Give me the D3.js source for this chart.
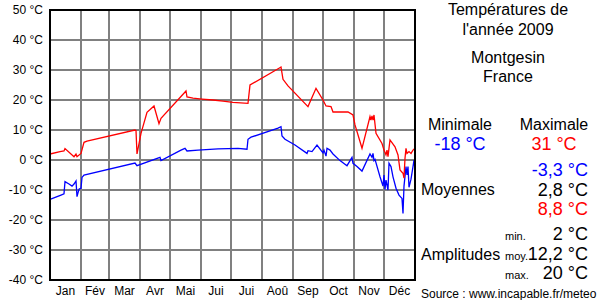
<!DOCTYPE html>
<html>
<head>
<meta charset="utf-8">
<script src="https://cdn.jsdelivr.net/npm/d3@7"></script>
<style>
	body { margin: 0; background: #fff; }
	svg { display: block; font-family: "Liberation Sans", Arial, sans-serif; }
</style>
</head>
<body>
<div id="chart"></div>
<script>

// Data (day of year, °C)
var months = ["Jan","Fév","Mar","Avr","Mai","Jui","Jui","Aoû","Sep","Oct","Nov","Déc"];
var monthDays = [31,28,31,30,31,30,31,31,30,31,30,31];
var tempTicks = [50,40,30,20,10,0,-10,-20,-30,-40];

var maxDays  = [0,10,14,15,24,26,27,31,34,37,85,86,87,91,97,104,109,111,136,137,143,152,163,173,183,198,200,229,231,233,238,258,266,273,276,281,283,298,303,305,312,320,321,322,323,324,326,332,334,336,337,338,340,345,348,350,353,354,355,356,357,359,361,363,365];
var maxTemps = [2.0,2.8,3.0,3.8,1.1,2.0,1.1,2.2,5.9,6.3,10.0,9.8,2.0,8.9,15.9,18.0,12.1,13.9,23.0,21.0,20.6,20.3,20.0,19.6,19.2,18.9,25.0,30.6,31.0,26.9,24.7,17.8,23.9,20.0,18.0,17.8,16.0,16.0,15.0,11.7,3.9,14.5,13.3,14.7,13.3,15.0,8.9,5.5,3.3,1.7,3.3,1.1,6.7,4.4,1.7,-3.3,-4.4,-6.0,0.6,3.9,2.2,2.8,2.2,3.3,3.9];

var minDays  = [0,11,14,15,19,22,24,26,27,29,31,32,34,85,87,110,111,131,135,137,148,168,188,197,198,201,228,231,232,235,245,257,258,262,267,273,274,276,277,280,283,290,297,302,303,307,312,320,322,323,324,325,330,333,334,335,336,338,339,341,343,346,349,352,353,354,356,357,358,359,361,363,364,365];
var minTemps = [-13.1,-11.7,-11.3,-7.2,-8.0,-8.7,-8.0,-7.0,-12.2,-9.7,-9.4,-5.8,-5.0,-1.0,-1.9,0.9,-0.2,3.3,3.9,3.0,3.3,3.7,3.9,3.6,6.9,7.6,10.6,11.1,8.0,6.9,5.0,2.2,3.1,2.8,5.0,2.4,3.3,1.3,3.9,3.3,2.0,-0.2,-1.9,0.9,-1.1,-2.2,-3.7,2.0,0.9,2.2,-0.2,0.2,-5.6,-8.7,-5.0,-9.8,-6.7,-10.0,-1.1,-2.2,-5.6,-9.4,-11.7,-12.8,-17.8,-8.7,-2.2,-5.0,-2.2,-9.1,-6.4,-2.2,0.0,-3.3];

var titleLines = ["Températures de","l'année 2009"];
var placeLines = ["Montgesin","France"];
var extremes = {min: "-18 °C", max: "31 °C"};
var averages = ["-3,3 °C","2,8 °C","8,8 °C"];
var amplitudeLabels = ["min.","moy.","max."];
var amplitudes = ["2 °C","12,2 °C","20 °C"];
var sourceText = "Source : www.incapable.fr/meteo";

// Drawing parameters
var width = 600, height = 300;
var plotLeft = 50, plotRight = 415, plotTop = 10, plotBottom = 280;
var gridColor = "#808080";
var panelCenter = 508;
var bigFont = 18;

var svg = d3.select("#chart").append("svg")
	.attr("width",width).attr("height",height)
	.attr("viewBox","0 0 " + width + " " + height);

var x = d3.scaleLinear().domain([0,365]).range([plotLeft,plotRight]);
var y = d3.scaleLinear().domain([-40,50]).range([plotBottom,plotTop]);

// month boundaries
var monthStart = [0];
monthDays.forEach(function(d,i) { monthStart.push(monthStart[i] + d); });

// Grid
var grid = svg.append("g").attr("stroke",gridColor).attr("stroke-width",2).attr("shape-rendering","crispEdges");
grid.selectAll("line.h").data(tempTicks.slice(1,-1)).enter().append("line")
	.attr("class","h")
	.attr("x1",plotLeft).attr("x2",plotRight)
	.attr("y1",function(d) { return y(d); }).attr("y2",function(d) { return y(d); });
grid.selectAll("line.v").data(monthStart.slice(1,-1)).enter().append("line")
	.attr("class","v")
	.attr("y1",plotTop).attr("y2",plotBottom)
	.attr("x1",function(d) { return x(d); }).attr("x2",function(d) { return x(d); });

// Series
var line = d3.line()
	.x(function(d) { return x(d[0]); })
	.y(function(d) { return y(d[1]); });

svg.append("path")
	.datum(d3.zip(minDays,minTemps))
	.attr("d",line)
	.attr("fill","none").attr("stroke","#0000ff").attr("stroke-width",1.3);

svg.append("path")
	.datum(d3.zip(maxDays,maxTemps))
	.attr("d",line)
	.attr("fill","none").attr("stroke","#ff0000").attr("stroke-width",1.3);

// Frame
svg.append("rect")
	.attr("x",plotLeft).attr("y",plotTop)
	.attr("width",plotRight-plotLeft).attr("height",plotBottom-plotTop)
	.attr("fill","none").attr("stroke","#000").attr("stroke-width",2)
	.attr("shape-rendering","crispEdges");

// Y axis
var yAxis = d3.axisLeft(y)
	.tickValues(tempTicks)
	.tickSize(0).tickPadding(7)
	.tickFormat(function(d) { return d + " °C"; });

svg.append("g")
	.attr("transform","translate(" + plotLeft + ",0)")
	.call(yAxis)
	.call(function(g) { g.select(".domain").remove(); })
	.selectAll("text")
		.attr("font-family","Liberation Sans, Arial, sans-serif")
		.attr("font-size",12).attr("fill","#000");

// Month labels
svg.append("g").selectAll("text").data(months).enter().append("text")
	.attr("x",function(d,i) { return x((monthStart[i] + monthStart[i+1]) / 2); })
	.attr("y",295)
	.attr("text-anchor","middle")
	.attr("font-size",12)
	.text(function(d) { return d; });

// Right panel
var panel = svg.append("g").attr("font-size",16).attr("fill","#000");

panel.selectAll("text.title").data(titleLines.concat(placeLines)).enter().append("text")
	.attr("x",panelCenter)
	.attr("y",function(d,i) { return [15,35,63,82][i]; })
	.attr("text-anchor","middle")
	.text(function(d) { return d; });

panel.append("text").attr("x",460).attr("y",130).attr("text-anchor","middle").text("Minimale");
panel.append("text").attr("x",554).attr("y",130).attr("text-anchor","middle").text("Maximale");
panel.append("text").attr("x",460).attr("y",149.5).attr("text-anchor","middle")
	.attr("font-size",bigFont).attr("fill","#0000ff").text(extremes.min);
panel.append("text").attr("x",554).attr("y",149.5).attr("text-anchor","middle")
	.attr("font-size",bigFont).attr("fill","#ff0000").text(extremes.max);

// Moyennes
var avgColors = ["#0000ff","#000","#ff0000"];
panel.append("text").attr("x",421).attr("y",195).text("Moyennes");
panel.selectAll("text.avg").data(averages).enter().append("text")
	.attr("class","avg")
	.attr("x",588)
	.attr("y",function(d,i) { return 176 + i*19.5; })
	.attr("text-anchor","end")
	.attr("font-size",bigFont)
	.attr("fill",function(d,i) { return avgColors[i]; })
	.text(function(d) { return d; });

// Amplitudes
panel.append("text").attr("x",421).attr("y",260).text("Amplitudes");
panel.selectAll("text.amplab").data(amplitudeLabels).enter().append("text")
	.attr("class","amplab")
	.attr("x",505)
	.attr("y",function(d,i) { return 240 + i*19.7; })
	.attr("font-size",11)
	.text(function(d) { return d; });
panel.selectAll("text.amp").data(amplitudes).enter().append("text")
	.attr("class","amp")
	.attr("x",588)
	.attr("y",function(d,i) { return 240 + i*19.7; })
	.attr("text-anchor","end")
	.attr("font-size",bigFont)
	.text(function(d) { return d; });

// Source
svg.append("text")
	.attr("x",421).attr("y",298)
	.attr("font-size",12)
	.text(sourceText);

</script>
</body>
</html>
